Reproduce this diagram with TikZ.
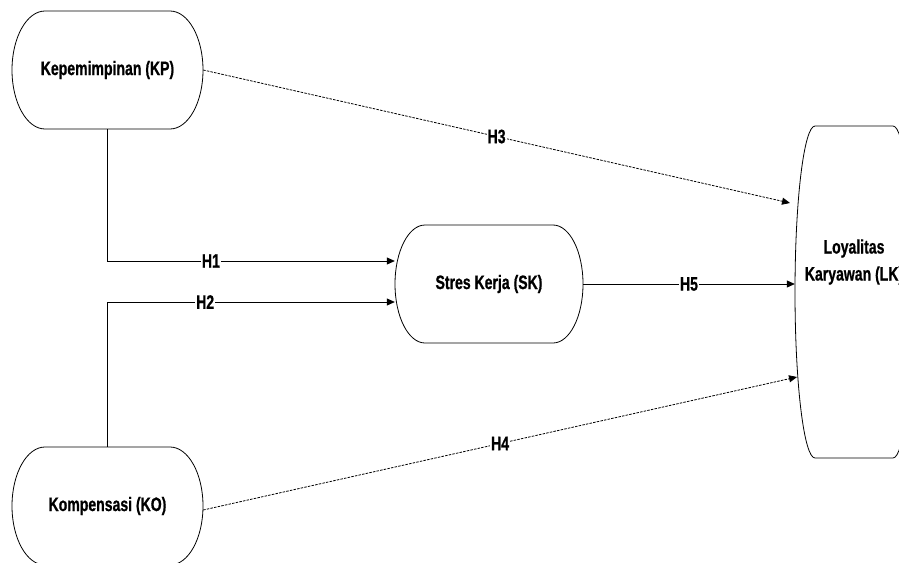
\documentclass[tikz,border=0pt]{standalone}
\usepackage{fontspec}
\setmainfont{Liberation Sans}[FakeStretch=0.72,BoldFeatures={FakeBold=0.8}]
\usetikzlibrary{arrows.meta}
\newcommand\pillshape[5]{% cx, cy, w, h, rx
  \draw[shapeline] ({#1-#3/2+#5},{#2-#4/2}) -- ({#1+#3/2-#5},{#2-#4/2})
    arc[start angle=90,end angle=-90,x radius={#5*1pt},y radius={#4*0.5pt}]
    -- ({#1-#3/2+#5},{#2+#4/2})
    arc[start angle=270,end angle=90,x radius={#5*1pt},y radius={#4*0.5pt}]
    -- cycle;}
\begin{document}
\begin{tikzpicture}[x=1pt,y=-1pt,
  shapeline/.style={draw=black,line width=0.8pt},
  box/.style={draw=none,inner sep=0pt,align=center,
    font=\fontsize{19.5}{27}\selectfont\bfseries},
  conn/.style={line width=0.8pt,-{Triangle[length=8pt,width=7pt]}},
  dashconn/.style={conn,dash pattern=on 2.5pt off 1.2pt},
  lbl/.style={fill=white,inner sep=1pt,font=\fontsize{19.5}{20}\selectfont\bfseries}]
\useasboundingbox (0,0) rectangle (899,562);
\clip (0,0) rectangle (899,562);
\fill[white] (0,0) rectangle (899,562);
% shapes
\pillshape{107.5}{70}{191}{118}{33}
\node[box,minimum width=191pt,minimum height=118pt] (KP) at (107.5,70) {Kepemimpinan (KP)};
\pillshape{107.5}{506}{191}{118}{33}
\node[box,minimum width=191pt,minimum height=118pt] (KO) at (107.5,506) {Kompensasi (KO)};
\pillshape{489}{284}{188}{118}{30}
\node[box,minimum width=188pt,minimum height=118pt] (SK) at (489,284) {Stres Kerja (SK)};
\pillshape{854}{292}{118}{332}{20}
\node[box,minimum width=118pt,minimum height=332pt] (LK) at (854,292) {};
\node[box] (LKtext) at (854,262) {Loyalitas\\Karyawan (LK)};
% connector ends
\coordinate (h3end) at (790,203);
\coordinate (h4end) at (797,377);
% connectors
\draw[conn] (KP.south) |- ([yshift=23pt]SK.west) node[lbl,pos=0.68] {H1};
\draw[conn] (KO.north) |- ([yshift=-18pt]SK.west) node[lbl,pos=0.67] {H2};
\draw[dashconn] (KP.east) -- (h3end) node[lbl,midway] {H3};
\draw[dashconn] ([yshift=-4pt]KO.east) -- (h4end) node[lbl,midway] {H4};
\draw[conn] (SK.east) -- (SK.east -| LK.west) node[lbl,midway] {H5};
\end{tikzpicture}
\end{document}
